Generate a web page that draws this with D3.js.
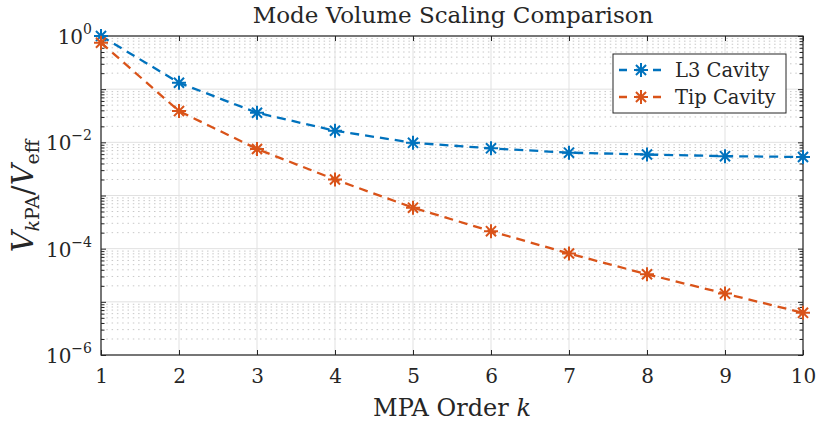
<!DOCTYPE html>
<html>
<head>
<meta charset="utf-8">
<script src="https://cdn.jsdelivr.net/npm/d3@7"></script>
<style>
  body { margin: 0; background: #fff; }
  svg text { font-family: "DejaVu Serif", serif; fill: #262626; }
</style>
</head>
<body>
<svg id="chart" width="817" height="427"></svg>
<script>
// data
const orders = [1, 2, 3, 4, 5, 6, 7, 8, 9, 10];
const l3Cavity = [1.0, 0.132, 0.036, 0.0165, 0.0098, 0.0077, 0.0064, 0.0059, 0.0055, 0.0053];
const tipCavity = [0.75, 0.0387, 0.0075, 0.0020, 0.00059, 0.000213, 8.1e-5, 3.3e-5, 1.43e-5, 6.2e-6];
const seriesNames = ["L3 Cavity", "Tip Cavity"];
const yTickExps = [0, -2, -4, -6];

const svg = d3.select("#chart");
const plotL = 101, plotR = 803, plotT = 36, plotB = 355;

const x = d3.scaleLinear().domain([1, 10]).range([plotL, plotR]);
const y = d3.scaleLog().domain([1e-6, 1]).range([plotB, plotT]);

const colors = ["#0072BD", "#D95319"];
const serif = '"DejaVu Serif", serif';

// minor grid (dotted), every 2..9 of each decade
const minors = [];
for (let e = -6; e < 0; e++) for (let m = 2; m <= 9; m++) minors.push(m * Math.pow(10, e));
const majorsY = d3.range(-6, 1).map(e => Math.pow(10, e));

const grid = svg.append("g");
grid.selectAll(".minor").data(minors).enter().append("line")
    .attr("x1", plotL).attr("x2", plotR)
    .attr("y1", d => y(d)).attr("y2", d => y(d))
    .style("stroke", "#c8c8c8")
    .style("stroke-width", 1)
    .style("stroke-dasharray", "1.5,3.8");
grid.selectAll(".majy").data(majorsY).enter().append("line")
    .attr("x1", plotL).attr("x2", plotR)
    .attr("y1", d => y(d)).attr("y2", d => y(d))
    .style("stroke", "#e1e1e1")
    .style("stroke-width", 1);
grid.selectAll(".majx").data(orders).enter().append("line")
    .attr("y1", plotT).attr("y2", plotB)
    .attr("x1", d => x(d)).attr("x2", d => x(d))
    .style("stroke", "#e1e1e1")
    .style("stroke-width", 1);

// axes with inward ticks
const axisColor = "#262626";
const xb = svg.append("g").attr("transform", `translate(0,${plotB})`)
    .call(d3.axisBottom(x).tickValues(orders).tickSizeInner(-5).tickSizeOuter(0).tickPadding(14).tickFormat(d3.format("d")));
const xt = svg.append("g").attr("transform", `translate(0,${plotT})`)
    .call(d3.axisTop(x).tickValues(orders).tickSizeInner(-5).tickSizeOuter(0).tickFormat(""));
const yl = svg.append("g").attr("transform", `translate(${plotL},0)`)
    .call(d3.axisLeft(y).tickValues(majorsY).tickSizeInner(-5).tickSizeOuter(0).tickFormat(""));
const yr = svg.append("g").attr("transform", `translate(${plotR},0)`)
    .call(d3.axisRight(y).tickValues(majorsY).tickSizeInner(-5).tickSizeOuter(0).tickFormat(""));
const ylm = svg.append("g").attr("transform", `translate(${plotL},0)`)
    .call(d3.axisLeft(y).tickValues(minors).tickSizeInner(-3.5).tickSizeOuter(0).tickFormat(""));
const yrm = svg.append("g").attr("transform", `translate(${plotR},0)`)
    .call(d3.axisRight(y).tickValues(minors).tickSizeInner(-3.5).tickSizeOuter(0).tickFormat(""));
[xb, xt, yl, yr, ylm, yrm].forEach(g => {
    g.attr("font-family", serif);
    g.select(".domain").remove();
    g.selectAll("line").style("stroke", axisColor).style("stroke-width", 1);
});
xb.selectAll("text").style("font-size", "20px").style("fill", axisColor)
    .style("font-family", serif);

// box
svg.append("rect")
    .attr("x", plotL).attr("y", plotT)
    .attr("width", plotR - plotL).attr("height", plotB - plotT)
    .style("fill", "none").style("stroke", axisColor).style("stroke-width", 1.2);

// y tick labels 10^e
const ylab = svg.append("g");
yTickExps.forEach(e => {
    const t = ylab.append("text")
        .attr("x", 92).attr("y", y(Math.pow(10, e)) + 8)
        .attr("text-anchor", "end")
        .style("font-size", "20px");
    t.append("tspan").text("10");
    t.append("tspan").attr("dy", -10).style("font-size", "14px")
        .text(e === 0 ? "0" : "\u2212" + Math.abs(e));
});

// lines and markers
const line = d3.line().x((d, i) => x(orders[i])).y(d => y(d));
const allSeries = [l3Cavity, tipCavity];

function asterisk(g, cx, cy, r, color) {
    const a = r * 0.72;
    const p = `M${cx - r},${cy}L${cx + r},${cy}M${cx},${cy - r}L${cx},${cy + r}` +
        `M${cx - a},${cy - a}L${cx + a},${cy + a}M${cx - a},${cy + a}L${cx + a},${cy - a}`;
    g.append("path").attr("d", p)
        .style("stroke", color).style("stroke-width", 2).style("fill", "none");
}

allSeries.forEach((vals, si) => {
    svg.append("path")
        .datum(vals)
        .attr("d", line)
        .style("fill", "none")
        .style("stroke", colors[si])
        .style("stroke-width", 2.3)
        .style("stroke-dasharray", "9,6");
});
allSeries.forEach((vals, si) => {
    const g = svg.append("g");
    vals.forEach((v, i) => asterisk(g, x(orders[i]), y(v), 7, colors[si]));
});

// legend
const lg = svg.append("g");
lg.append("rect")
    .attr("x", 613).attr("y", 54).attr("width", 173).attr("height", 59)
    .style("fill", "#fff").style("stroke", axisColor).style("stroke-width", 1);
seriesNames.forEach((name, i) => {
    const ly = 70 + i * 27;
    lg.append("line")
        .attr("x1", 619).attr("x2", 663).attr("y1", ly).attr("y2", ly)
        .style("stroke", colors[i]).style("stroke-width", 2.3)
        .style("stroke-dasharray", "8,9");
    asterisk(lg, 641, ly, 7, colors[i]);
    lg.append("text")
        .attr("x", 675).attr("y", ly + 7)
        .style("font-size", "19.5px")
        .text(name);
});

// title
svg.append("text")
    .attr("x", 453).attr("y", 23)
    .attr("text-anchor", "middle")
    .style("font-size", "23px")
    .text("Mode Volume Scaling Comparison");

// x label
const xl = svg.append("text")
    .attr("x", 452).attr("y", 416)
    .attr("text-anchor", "middle")
    .style("font-size", "24px");
xl.append("tspan").text("MPA Order ");
xl.append("tspan").style("font-style", "italic").text("k");

// y label
const yt = svg.append("text")
    .attr("transform", "translate(33,196) rotate(-90)")
    .attr("text-anchor", "middle")
    .style("font-size", "29px");
yt.append("tspan").style("font-style", "italic").text("V");
yt.append("tspan").attr("dy", 6).style("font-size", "19px").style("font-style", "italic").text("k");
yt.append("tspan").style("font-size", "19px").text("PA");
yt.append("tspan").attr("dy", -6).text("/");
yt.append("tspan").style("font-style", "italic").text("V");
yt.append("tspan").attr("dy", 6).style("font-size", "19px").text("eff");
</script>
</body>
</html>
